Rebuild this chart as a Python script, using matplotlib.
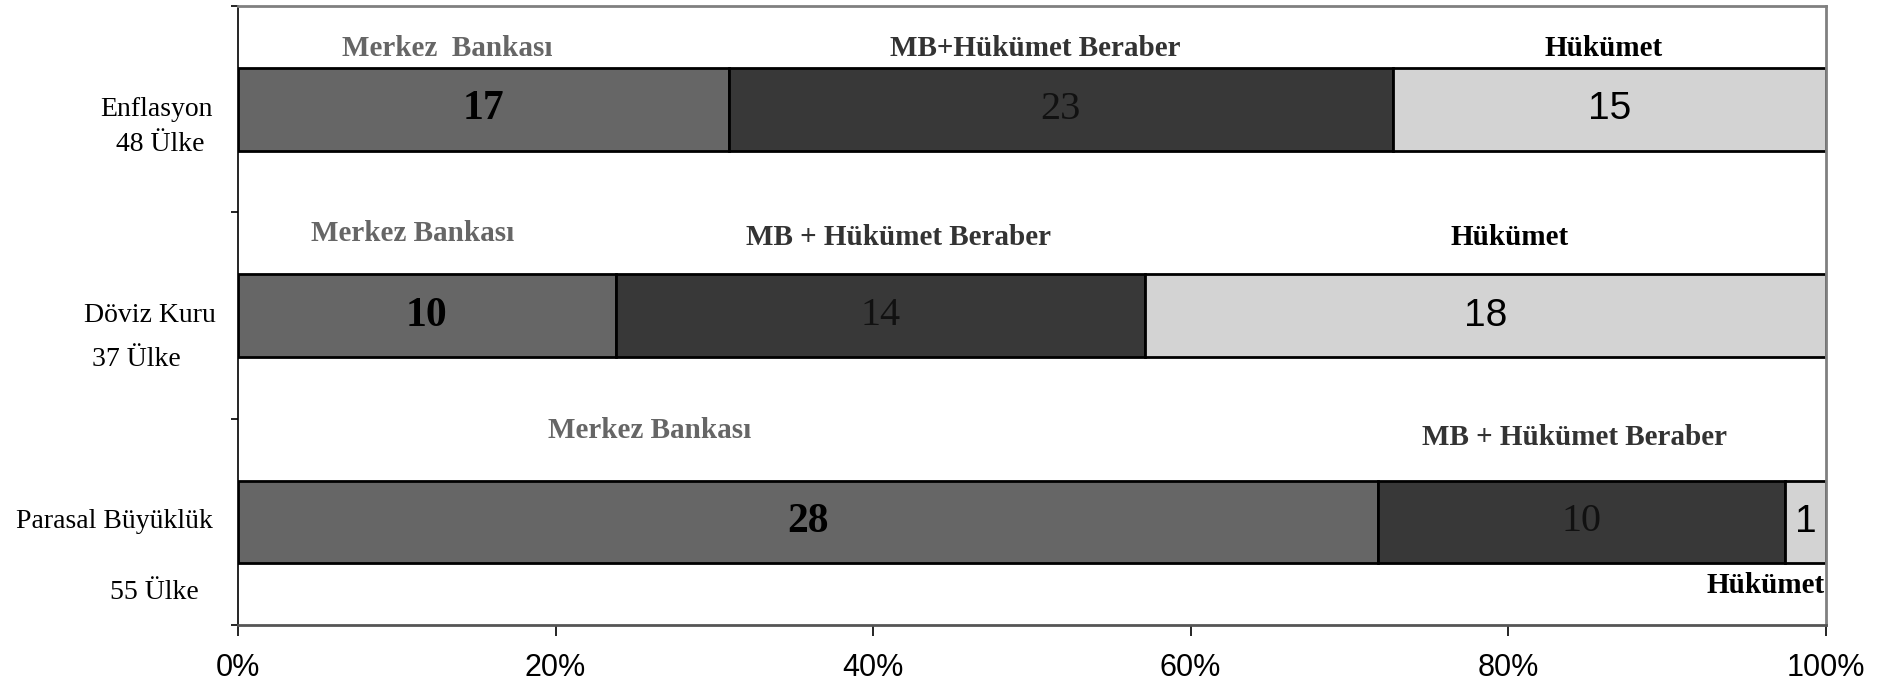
import numpy as np
import matplotlib.pyplot as plt

# data
rows = ['Enflasyon', 'Döviz Kuru', 'Parasal Büyüklük']
row_counts = ['48 Ülke', '37 Ülke', '55 Ülke']
groups = ['Merkez Bankası', 'MB + Hükümet Beraber', 'Hükümet']
merkez = [17, 10, 28]
beraber = [23, 14, 10]
hukumet = [15, 18, 1]

colors = ['#666666', '#383838', '#d3d3d3']
label_colors = ['#666666', '#333333', '#000000']
serif = 'Liberation Serif'
sans = 'Liberation Sans'

values = np.array([merkez, beraber, hukumet], dtype=float)
shares = values / values.sum(axis=0) * 100

fig = plt.figure(figsize=(18.84, 6.84), dpi=100)
ax = fig.add_axes([0.1263, 0.0863, 0.8428, 0.9047])

y = np.arange(len(rows))
left = np.zeros(len(rows))
for i in range(len(groups)):
    ax.barh(y, shares[i], left=left, height=0.4, color=colors[i],
            edgecolor='black', linewidth=2)
    for j in range(len(rows)):
        cx = left[j] + shares[i][j] / 2
        txt = str(int(values[i][j]))
        if i == 0:
            ax.text(cx, y[j], txt, ha='center', va='center', fontsize=30,
                    family=serif, weight='bold', color='black')
        elif i == 1:
            ax.text(cx, y[j], txt, ha='center', va='center', fontsize=29,
                    family=serif, color='#111111')
        else:
            ax.text(cx, y[j], txt, ha='center', va='center', fontsize=28,
                    family=sans, color='black')
    left = left + shares[i]

# group labels above / below the bars (placed by hand like the original)
label_pos = [
    [(13.2, -0.295, 'Merkez  Bankası'), (50.2, -0.295, 'MB+Hükümet Beraber'), (86.0, -0.295, 'Hükümet')],
    [(11.0, -0.40, 'Merkez Bankası'), (41.6, -0.38, 'MB + Hükümet Beraber'), (80.1, -0.38, 'Hükümet')],
    [(25.9, -0.445, 'Merkez Bankası'), (84.2, -0.41, 'MB + Hükümet Beraber'), (96.2, 0.31, 'Hükümet')],
]
for j in range(len(rows)):
    for i, (lx, ly, s) in enumerate(label_pos[j]):
        ax.text(lx, y[j] + ly, s, ha='center', va='center', fontsize=21,
                family=serif, weight='bold', color=label_colors[i],
                clip_on=False)

# category labels on the left
cat_pos = [(-0.0516, 0.0, -0.049, 0.17), (-0.0554, 1.0, -0.0642, 1.215),
           (-0.0775, 2.0, -0.0529, 2.343)]
trans = ax.get_yaxis_transform()
for j in range(len(rows)):
    x1, y1, x2, y2 = cat_pos[j]
    ax.text(x1, y1, rows[j], transform=trans, ha='center', va='center',
            fontsize=20, family=serif)
    ax.text(x2, y2, row_counts[j], transform=trans, ha='center', va='center',
            fontsize=20, family=serif)

ax.set_xlim(0, 100)
ax.set_ylim(2.5, -0.5)
ax.set_yticks([-0.5, 0.5, 1.5, 2.5])
ax.set_yticklabels([])
ax.set_xticks(np.arange(0, 101, 20))
ax.set_xticklabels(['%d%%' % v for v in range(0, 101, 20)], family=sans, fontsize=22)
ax.tick_params(axis='x', length=8, width=1.2, pad=12)
ax.tick_params(axis='y', length=5, width=1.2)

for s in ['top', 'right']:
    ax.spines[s].set_color('#808080')
    ax.spines[s].set_linewidth(2)
ax.spines['left'].set_color('black')
ax.spines['left'].set_linewidth(1.2)
ax.spines['bottom'].set_color('#555555')
ax.spines['bottom'].set_linewidth(2)

fig.savefig('out.png', dpi=100)
